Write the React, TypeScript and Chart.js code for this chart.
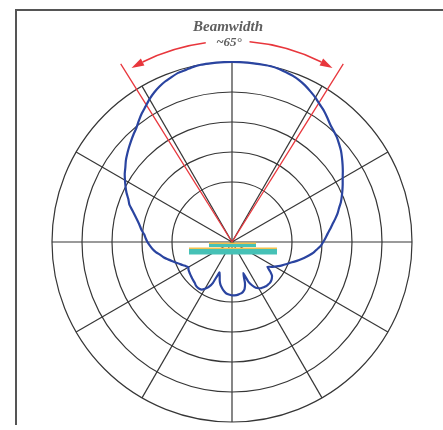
import React, { useEffect, useRef } from "react";
import { Chart, registerables } from "chart.js";

Chart.register(...registerables);

// Azimuth angles (degrees, clockwise from boresight at top), 2.5° apart
const ANGLES_DEG = [
  0, 2.5, 5, 7.5, 10, 12.5, 15, 17.5, 20, 22.5, 25, 27.5,
  30, 32.5, 35, 37.5, 40, 42.5, 45, 47.5, 50, 52.5, 55, 57.5,
  60, 62.5, 65, 67.5, 70, 72.5, 75, 77.5, 80, 82.5, 85, 87.5,
  90, 92.5, 95, 97.5, 100, 102.5, 105, 107.5, 110, 112.5, 115, 117.5,
  120, 122.5, 125, 127.5, 130, 132.5, 135, 137.5, 140, 142.5, 145, 147.5,
  150, 152.5, 155, 157.5, 160, 162.5, 165, 167.5, 170, 172.5, 175, 177.5,
  180, 182.5, 185, 187.5, 190, 192.5, 195, 197.5, 200, 202.5, 205, 207.5,
  210, 212.5, 215, 217.5, 220, 222.5, 225, 227.5, 230, 232.5, 235, 237.5,
  240, 242.5, 245, 247.5, 250, 252.5, 255, 257.5, 260, 262.5, 265, 267.5,
  270, 272.5, 275, 277.5, 280, 282.5, 285, 287.5, 290, 292.5, 295, 297.5,
  300, 302.5, 305, 307.5, 310, 312.5, 315, 317.5, 320, 322.5, 325, 327.5,
  330, 332.5, 335, 337.5, 340, 342.5, 345, 347.5, 350, 352.5, 355, 357.5,
];

// Relative gain (dB)
const PATTERN_DB = [
  0, 0, 0, 0, 0, 0, -0.1, -0.3, -0.5, -0.8, -1.2, -1.7,
  -2.2, -2.8, -3.3, -3.9, -4.5, -4.9, -5.3, -5.8, -6.3, -6.9, -7.5, -8.1,
  -8.7, -9.2, -9.7, -10.2, -10.7, -11.3, -11.8, -12.4, -13, -13.5, -14, -14.4,
  -14.8, -15.2, -15.8, -16.3, -17, -17.7, -18.4, -19.1, -19.8, -20.3, -20.8, -21.3,
  -21.8, -22.3, -22.8, -22.0, -21.3, -21.0, -20.8, -20.7, -20.7, -20.7, -20.8, -20.9,
  -21.1, -21.4, -22.0, -22.8, -24.5, -22.8, -21.9, -21.5, -21.3, -21.2, -21.1, -21.1,
  -21.1, -21.2, -21.3, -21.5, -21.8, -22.2, -22.6, -23.2, -24, -24.5, -22.5, -21.5,
  -21.0, -20.6, -20.5, -20.5, -20.6, -20.8, -20.9, -21.0, -21.1, -21.2, -21.3, -21.4,
  -21.6, -21.3, -20.9, -20.5, -20, -19.5, -18.9, -18.3, -17.8, -17.2, -16.7, -16.3,
  -15.9, -15.6, -15.3, -14.8, -14.4, -13.9, -13.3, -12.6, -11.8, -11.3, -10.6, -10,
  -9.4, -8.8, -8.3, -7.7, -7.2, -6.7, -6.2, -5.7, -5.2, -4.5, -3.8, -3.2,
  -2.5, -1.9, -1.4, -1, -0.7, -0.4, -0.3, -0.1, 0, 0, 0, 0,
];

const SCALE_MIN_DB = -30;
const SCALE_MAX_DB = 0;
const RING_DB = [-20, -15, -10, -5, 0];
const SPOKE_STEP_DEG = 30;

// Beamwidth annotation
const BEAM_EDGES_DEG = [-32, 32];
const BEAM_LINE_DB = 5;
const BEAM_ARC_DB = 3.5;
const BEAM_ARC_GAP_DEG = [-7.5, 5];
const BEAM_TITLE = "Beamwidth";
const BEAM_VALUE = "~65°";

const GRID = "#363636";
const BLUE = "#2a44a0";
const RED = "#e8363c";

const beamPlugin = {
  id: "beamAnnot",
  beforeDatasetsDraw(chart: any) {
    const s = chart.scales.r;
    const ctx = chart.ctx;
    const cx = s.xCenter;
    const cy = s.yCenter;
    const pos = (deg: number, r: number) => {
      const a = (deg * Math.PI) / 180;
      return { x: cx + r * Math.sin(a), y: cy - r * Math.cos(a) };
    };
    ctx.save();
    const rl = s.getDistanceFromCenterForValue(BEAM_LINE_DB);
    ctx.strokeStyle = RED;
    ctx.lineWidth = 1.3;
    BEAM_EDGES_DEG.forEach((d) => {
      const p = pos(d, rl);
      ctx.beginPath();
      ctx.moveTo(cx, cy);
      ctx.lineTo(p.x, p.y);
      ctx.stroke();
    });
    ctx.restore();
  },
  afterDatasetsDraw(chart: any) {
    const s = chart.scales.r;
    const ctx = chart.ctx;
    const cx = s.xCenter;
    const cy = s.yCenter;
    const toCanvasAngle = (deg: number) => ((deg - 90) * Math.PI) / 180;
    const pos = (deg: number, r: number) => {
      const a = (deg * Math.PI) / 180;
      return { x: cx + r * Math.sin(a), y: cy - r * Math.cos(a) };
    };
    ctx.save();
    const ra = s.getDistanceFromCenterForValue(BEAM_ARC_DB);
    const tipL = BEAM_EDGES_DEG[0] + 2;
    const tipR = BEAM_EDGES_DEG[1] - 2;
    const headDeg = 3.6;
    ctx.strokeStyle = RED;
    ctx.fillStyle = RED;
    ctx.lineWidth = 1.5;
    ctx.beginPath();
    ctx.arc(cx, cy, ra, toCanvasAngle(tipL + headDeg), toCanvasAngle(BEAM_ARC_GAP_DEG[0]));
    ctx.stroke();
    ctx.beginPath();
    ctx.arc(cx, cy, ra, toCanvasAngle(BEAM_ARC_GAP_DEG[1]), toCanvasAngle(tipR - headDeg));
    ctx.stroke();
    const head = (tip: number, back: number) => {
      const t = pos(tip, ra);
      const b1 = pos(back, ra + 4);
      const b2 = pos(back, ra - 4);
      ctx.beginPath();
      ctx.moveTo(t.x, t.y);
      ctx.lineTo(b1.x, b1.y);
      ctx.lineTo(b2.x, b2.y);
      ctx.closePath();
      ctx.fill();
    };
    head(tipL, tipL + headDeg);
    head(tipR, tipR - headDeg);

    ctx.fillStyle = "#5e5e5e";
    ctx.textAlign = "center";
    ctx.textBaseline = "middle";
    ctx.font = 'italic bold 15px "Liberation Serif"';
    ctx.fillText(BEAM_TITLE, cx - 4, cy - 215);
    ctx.font = 'italic bold 13px "Liberation Serif"';
    ctx.fillText(BEAM_VALUE, cx - 3, cy - 199);

    // antenna element at the centre
    ctx.fillStyle = "#f2c14e";
    ctx.fillRect(cx - 23, cy + 0.5, 47, 1.5);
    ctx.fillRect(cx - 43, cy + 5.5, 88, 1.5);
    ctx.fillStyle = "#46c1b6";
    ctx.fillRect(cx - 23, cy + 2, 47, 3);
    ctx.fillRect(cx - 43, cy + 7, 88, 5.5);
    ctx.restore();
  },
};

export default function App() {
  const ref = useRef<HTMLCanvasElement | null>(null);
  useEffect(() => {
    if (!ref.current) return;
    const chart = new Chart(ref.current, {
      type: "radar",
      data: {
        labels: ANGLES_DEG.map((a) => `${a}°`),
        datasets: [
          {
            data: PATTERN_DB,
            borderColor: BLUE,
            borderWidth: 2.2,
            backgroundColor: "transparent",
            fill: false,
            pointRadius: 0,
            tension: 0.15,
            clip: false as any,
          },
        ],
      },
      options: {
        animation: false,
        responsive: false,
        layout: { padding: { left: 52, right: 31, top: 62, bottom: 8 } },
        plugins: {
          legend: { display: false },
          tooltip: { enabled: false },
        },
        scales: {
          r: {
            min: SCALE_MIN_DB,
            max: SCALE_MAX_DB,
            afterBuildTicks: (scale: any) => {
              scale.ticks = RING_DB.map((v) => ({ value: v }));
            },
            ticks: { display: false },
            pointLabels: { display: false },
            grid: { circular: true, color: GRID, lineWidth: 1.2 },
            angleLines: {
              color: GRID,
              lineWidth: (c: any) =>
                ANGLES_DEG[c.index] % SPOKE_STEP_DEG === 0 ? 1.2 : 0,
            },
          },
        },
      },
      plugins: [beamPlugin],
    });
    return () => chart.destroy();
  }, []);

  return (
    <>
      <div
        style={{
          position: "absolute",
          left: 15,
          top: 9,
          width: 430,
          height: 416,
          borderTop: "2px solid #555",
          borderLeft: "2px solid #555",
          boxSizing: "border-box",
        }}
      />
      <canvas
        ref={ref}
        width={443}
        height={430}
        style={{ position: "absolute", left: 0, top: 0 }}
      />
    </>
  );
}
